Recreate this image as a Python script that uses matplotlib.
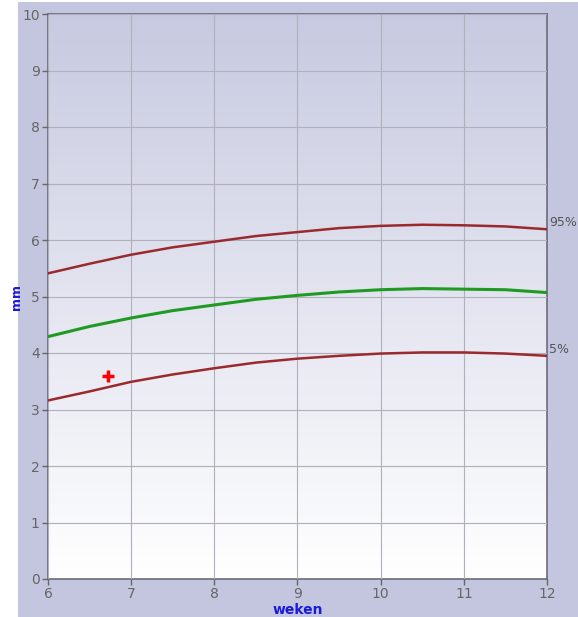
import numpy as np
import matplotlib
matplotlib.use("Agg")
import matplotlib.pyplot as plt

weeks = [6, 6.5, 7, 7.5, 8, 8.5, 9, 9.5, 10, 10.5, 11, 11.5, 12]
p95 = [5.41, 5.58, 5.74, 5.87, 5.97, 6.07, 6.14, 6.21, 6.25, 6.27, 6.26, 6.24, 6.19]
p50 = [4.29, 4.47, 4.62, 4.75, 4.85, 4.95, 5.02, 5.08, 5.12, 5.14, 5.13, 5.12, 5.07]
p5 = [3.16, 3.32, 3.49, 3.62, 3.73, 3.83, 3.90, 3.95, 3.99, 4.01, 4.01, 3.99, 3.95]
meas_x = [6.72]
meas_y = [3.59]

fig = plt.figure(figsize=(5.78, 6.17), dpi=100)
fig.patch.set_facecolor("white")

# lavendel achtergrond achter de grafiek
bg = fig.add_axes([18 / 578, 0, 1 - 18 / 578, 1 - 2 / 617])
bg.set_facecolor("#c3c6de")
bg.set_xticks([])
bg.set_yticks([])
for s in bg.spines.values():
    s.set_visible(False)
bg.set_zorder(0)

ax = fig.add_axes([48 / 578, 38 / 617, 499 / 578, 565 / 617])
ax.set_zorder(1)

# verloop van lavendel naar wit
grad = np.linspace(0, 1, 256).reshape(-1, 1)
top = np.array([0.78, 0.79, 0.88])
bot = np.array([1.0, 1.0, 1.0])
img = top + (bot - top) * grad[..., None]
ax.imshow(img, extent=[6, 12, 0, 10], origin="upper", aspect="auto", zorder=0)
ax.set_xlim(6, 12)
ax.set_ylim(0, 10)

ax.grid(True, color="#b0b0bc", linewidth=0.8, zorder=1)
ax.set_axisbelow(False)
ax.set_xticks(range(6, 13))
ax.set_yticks(range(0, 11))

ax.plot(weeks, p95, color="#9a2a2e", linewidth=1.8, zorder=3)
ax.plot(weeks, p50, color="#1f9a22", linewidth=2.2, zorder=3)
ax.plot(weeks, p5, color="#9a2a2e", linewidth=1.8, zorder=3)
ax.plot(meas_x, meas_y, marker="+", color="red", markersize=9, markeredgewidth=2.5,
        linestyle="none", zorder=4)

ax.text(12.03, p95[-1], "95%", color="#555555", fontsize=9, va="bottom", ha="left", clip_on=False)
ax.text(12.03, p5[-1], "5%", color="#555555", fontsize=9, va="bottom", ha="left", clip_on=False)

for s in ax.spines.values():
    s.set_color("#6a6a78")
    s.set_linewidth(1.2)
ax.tick_params(colors="#666666", labelsize=10, length=4, width=1, pad=2)
ax.set_xlabel("weken", color="#1a1ad8", fontsize=10, fontweight="bold", labelpad=1)
ax.set_ylabel("mm", color="#1a1ad8", fontsize=9, fontweight="bold")
ax.yaxis.set_label_coords(-0.05, 0.5)

fig.savefig("out.png", dpi=100)
